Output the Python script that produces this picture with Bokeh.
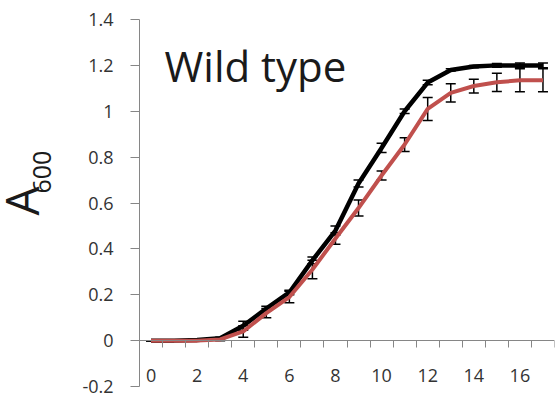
from bokeh.plotting import figure
from bokeh.models import (ColumnDataSource, Whisker, TeeHead, LinearAxis,
                          FixedTicker, Label, Range1d, Title)
from bokeh.embed import file_html
from bokeh.resources import INLINE

# ---- data ----
hours = list(range(18))
wt_black = [0, 0, 0.003, 0.01, 0.065, 0.14, 0.21, 0.35, 0.48, 0.685, 0.84,
            1.0, 1.125, 1.18, 1.195, 1.2, 1.2, 1.2]
wt_black_err = [0, 0, 0, 0.005, 0.02, 0.01, 0.01, 0.015, 0.02, 0.015, 0.02,
                0.01, 0.01, 0.005, 0.005, 0.008, 0.01, 0.01]
wt_red = [0, 0, 0, 0.005, 0.04, 0.12, 0.19, 0.31, 0.445, 0.578, 0.72,
          0.855, 1.01, 1.08, 1.11, 1.126, 1.135, 1.135]
wt_red_err = [0, 0, 0, 0.005, 0.025, 0.02, 0.025, 0.04, 0.025, 0.035, 0.02,
              0.03, 0.05, 0.04, 0.03, 0.04, 0.05, 0.05]

x_tick_values = [0, 2, 4, 6, 8, 10, 12, 14, 16]
x_minor_ticks = [h + 0.5 for h in range(-1, 18)]
y_tick_values = [-0.2, 0, 0.2, 0.4, 0.6, 0.8, 1, 1.2, 1.4]
y_tick_labels = ["-0.2", "0", "0.2", "0.4", "0.6", "0.8", "1", "1.2", "1.4"]

title_text = "Wild type"
ylabel_main = "A"
ylabel_sub = "600"

FONT = "Open Sans"
AXIS_GREY = "#868686"
TEXT_COL = "#333333"
RED = "#C0504D"

black_src = ColumnDataSource(dict(
    x=hours, y=wt_black,
    upper=[v + e for v, e in zip(wt_black, wt_black_err)],
    lower=[v - e for v, e in zip(wt_black, wt_black_err)]))
red_src = ColumnDataSource(dict(
    x=hours, y=wt_red,
    upper=[v + e for v, e in zip(wt_red, wt_red_err)],
    lower=[v - e for v, e in zip(wt_red, wt_red_err)]))

p = figure(width=555, height=398, output_backend="svg",
           toolbar_location=None,
           x_range=Range1d(-0.5, 17.5), y_range=Range1d(-0.2, 1.4),
           x_axis_type=None, y_axis_type=None,
           min_border_left=139, min_border_right=1, min_border_top=19,
           min_border_bottom=12)
p.outline_line_color = None
p.xgrid.visible = False
p.ygrid.visible = False

# y axis
yax = LinearAxis(ticker=FixedTicker(ticks=y_tick_values),
                 major_label_overrides=dict(zip(y_tick_values, y_tick_labels)))
yax.axis_line_color = AXIS_GREY
yax.major_tick_line_color = AXIS_GREY
yax.major_tick_out = 9
yax.major_tick_in = 0
yax.minor_tick_out = 0
yax.minor_tick_in = 0
yax.major_label_standoff = 17
yax.major_label_text_font = FONT
yax.major_label_text_font_size = "18px"
yax.major_label_text_color = TEXT_COL
p.add_layout(yax, "left")

# rotated y-axis title: "A" with subscript "600" (side titles are drawn vertically)
t_sub = Title(text=ylabel_sub, align="left", offset=193, standoff=58,
              text_font=FONT, text_font_size="25px", text_font_style="normal",
              text_color="#1a1a1a")
p.add_layout(t_sub, "left")
t_main = Title(text=ylabel_main, align="left", offset=171, standoff=-100,
               text_font=FONT, text_font_size="46px", text_font_style="normal",
               text_color="#1a1a1a")
p.add_layout(t_main, "left")

# x axis crossing at y = 0
xax = LinearAxis(ticker=FixedTicker(ticks=x_tick_values, minor_ticks=x_minor_ticks),
                 fixed_location=0)
xax.axis_line_color = AXIS_GREY
xax.major_tick_out = 0
xax.major_tick_in = 0
xax.major_tick_line_color = None
xax.minor_tick_line_color = AXIS_GREY
xax.minor_tick_out = 7
xax.minor_tick_in = 0
xax.major_label_standoff = 21
xax.major_label_text_font = FONT
xax.major_label_text_font_size = "18px"
xax.major_label_text_color = TEXT_COL
p.add_layout(xax, "below")

# lines
p.line("x", "y", source=black_src, line_color="black", line_width=4.5,
       line_join="round")
p.line("x", "y", source=red_src, line_color=RED, line_width=4,
       line_join="round")

for src in (black_src, red_src):
    w = Whisker(base="x", upper="upper", lower="lower", source=src,
                line_color="black", line_width=1.5,
                upper_head=TeeHead(size=10, line_color="black", line_width=1.5),
                lower_head=TeeHead(size=10, line_color="black", line_width=1.5))
    p.add_layout(w)

# panel title
p.add_layout(Label(x=25, y=321, x_units="screen", y_units="screen",
                   text=title_text, text_font=FONT,
                   text_font_size="42px", text_color="#1a1a1a",
                   text_baseline="alphabetic", text_align="left"))

open("out.html", "w").write(file_html(p, INLINE))
